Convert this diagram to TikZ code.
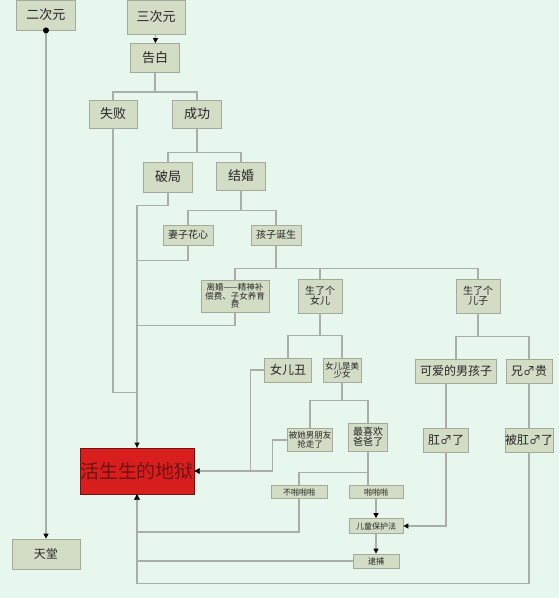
\documentclass[tikz,border=0pt]{standalone}
\usepackage{fontspec}
\setmainfont{Noto Sans CJK SC}
\usetikzlibrary{arrows.meta}
\definecolor{bgcol}{HTML}{E8F7EE}
\definecolor{boxfill}{HTML}{D3DCC5}
\definecolor{boxline}{HTML}{A3AA9C}
\definecolor{linecol}{HTML}{A9AEA9}
\definecolor{hellred}{HTML}{D91E1E}
\definecolor{helltext}{HTML}{6E1212}
\newcommand{\fs}[1]{\fontsize{#1}{#1}\selectfont}

\begin{document}
\begin{tikzpicture}[x=1pt, y=-1pt,
    box/.style={draw=boxline, line width=0.8pt, fill=boxfill, inner sep=0pt, align=center, text=black!85},
    hellbox/.style={draw=helltext, line width=1pt, fill=hellred, inner sep=0pt, text=helltext},
    link/.style={draw=linecol, line width=1.2pt},
    arr/.style={link, -{Triangle[length=5pt,width=5pt,black]}}]
    \useasboundingbox[fill=bgcol] (0,0) rectangle (559,598);

    \node[box, minimum width=59pt, minimum height=30pt, font=\fs{13}] (erciyuan) at (46,15) {二次元};
    \node[box, minimum width=58pt, minimum height=34pt, font=\fs{13}] (sanciyuan) at (156,17) {三次元};
    \node[box, minimum width=49pt, minimum height=29pt, font=\fs{13}] (gaobai) at (155,58) {告白};
    \node[box, minimum width=48pt, minimum height=28pt, font=\fs{13}] (shibai) at (113,114) {失败};
    \node[box, minimum width=49pt, minimum height=28pt, font=\fs{13}] (chenggong) at (197,114) {成功};
    \node[box, minimum width=49pt, minimum height=30pt, font=\fs{13}] (poju) at (168,177) {破局};
    \node[box, minimum width=49pt, minimum height=28pt, font=\fs{13}] (jiehun) at (241,176) {结婚};
    \node[box, minimum width=50pt, minimum height=20pt, font=\fs{10}] (qizi) at (188,235) {妻子花心};
    \node[box, minimum width=50pt, minimum height=20pt, font=\fs{10}] (haizi) at (276,235) {孩子诞生};
    \node[box, minimum width=68pt, minimum height=32pt, font=\fs{8.5}] (lihun) at (235,296) {离婚——精神补\\偿费、子女养育\\费};
    \node[box, minimum width=44pt, minimum height=34pt, font=\fs{10}] (nver) at (320,296) {生了个\\女儿};
    \node[box, minimum width=44pt, minimum height=34pt, font=\fs{10}] (erzi) at (478,296) {生了个\\儿子};
    \node[box, minimum width=47pt, minimum height=24pt, font=\fs{12}] (nvchou) at (288,370) {女儿丑};
    \node[box, minimum width=38pt, minimum height=24pt, font=\fs{8.5}] (meishaonv) at (342,370) {女儿是美\\少女};
    \node[box, minimum width=81pt, minimum height=24pt, font=\fs{12}] (keai) at (456,371) {可爱的男孩子};
    \node[box, minimum width=46pt, minimum height=24pt, font=\fs{12}] (xionggui) at (529,371) {兄♂贵};
    \node[box, minimum width=45pt, minimum height=23pt, font=\fs{8.5}] (beiqiang) at (310,440) {被她男朋友\\抢走了};
    \node[box, minimum width=39pt, minimum height=28pt, font=\fs{10}] (zuixihuan) at (368,437) {最喜欢\\爸爸了};
    \node[box, minimum width=45pt, minimum height=24pt, font=\fs{12}] (gang) at (446,440) {肛♂了};
    \node[box, minimum width=48pt, minimum height=24pt, font=\fs{12}] (beigang) at (529,440) {被肛♂了};
    \node[hellbox, minimum width=101pt, minimum height=46pt, font=\fs{19}] (hell) at (137,471) {活生生的地狱};
    \node[box, minimum width=56pt, minimum height=13pt, font=\fs{8}] (bupapa) at (299,492) {不啪啪啪};
    \node[box, minimum width=54pt, minimum height=13pt, font=\fs{8}] (papa) at (376,492) {啪啪啪};
    \node[box, minimum width=54pt, minimum height=15pt, font=\fs{8}] (ertong) at (376,526) {儿童保护法};
    \node[box, minimum width=46pt, minimum height=14pt, font=\fs{8}] (daibu) at (376,561) {逮捕};
    \node[box, minimum width=68pt, minimum height=30pt, font=\fs{12}] (tiantang) at (46,554) {天堂};

    % 二次元
    \draw[arr] (erciyuan.south) -- (tiantang.north);
    \fill (erciyuan.south) circle (3pt);

    % 三次元
    \draw[arr] (sanciyuan) -- (gaobai);
    \draw[link] (gaobai.south) -- ++(0,19) -| (shibai.north);
    \draw[link] (gaobai.south) -- ++(0,19) -| (chenggong.north);
    \draw[link] (chenggong.south) -- ++(0,24) -| (poju.north);
    \draw[link] (chenggong.south) -- ++(0,24) -| (jiehun.north);
    \draw[link] (shibai.south) -- ++(0,264) -| (hell.north);
    \draw[link] (jiehun.south) -- ++(0,20) -| (qizi.north);
    \draw[link] (jiehun.south) -- ++(0,20) -| (haizi.north);
    \draw[link] (qizi.south) -- ++(0,15) -| (hell.north);
    \draw[link] (haizi.south) -- ++(0,23) -| (lihun.north);
    \draw[link] (haizi.south) -- ++(0,23) -| (nver.north);
    \draw[link] (haizi.south) -- ++(0,23) -| (erzi.north);
    \draw[link] (lihun.south) -- ++(0,13) -| (hell.north);
    \draw[arr] (poju.south) -- ++(0,13) -| (hell.north);

    % 女儿
    \draw[link] (nver.south) -- ++(0,22) -| (nvchou.north);
    \draw[link] (nver.south) -- ++(0,22) -| (meishaonv.north);
    \draw[arr] (nvchou.west) -- ++(-14,0) |- (hell.east);
    \draw[link] (meishaonv.south) -- ++(0,18) -| (beiqiang.north);
    \draw[link] (meishaonv.south) -- ++(0,18) -| (zuixihuan.north);
    \draw[arr] (beiqiang.west) -- ++(-15,0) |- (hell.east);
    \draw[link] (zuixihuan.south) -- ++(0,21) -| (bupapa.north);
    \draw[link] (zuixihuan.south) -- (zuixihuan.south |- papa.north);
    \draw[arr] (bupapa.south) -- ++(0,33) -| (hell.south);
    \draw[arr] (papa) -- (ertong);
    \draw[arr] (ertong) -- (daibu);
    \draw[arr] (daibu.west) -| (hell.south);

    % 儿子
    \draw[link] (erzi.south) -- ++(0,23) -| (keai.north);
    \draw[link] (erzi.south) -- ++(0,23) -| (xionggui.north);
    \draw[link] (gang.north) -- (gang.north |- keai.south);
    \draw[link] (xionggui) -- (beigang);
    \draw[arr] (gang.south) |- (ertong.east);
    \draw[arr] (beigang.south) -- ++(0,131) -| (hell.south);
\end{tikzpicture}
\end{document}
